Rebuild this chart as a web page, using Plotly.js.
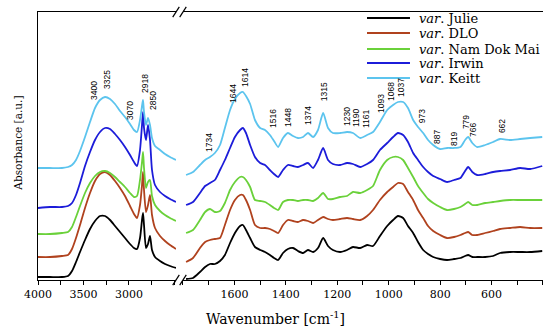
<!DOCTYPE html>
<html>
<head>
<meta charset="utf-8">
<script src="https://cdn.plot.ly/plotly-3.0.1.min.js"></script>
<style>html,body{margin:0;padding:0;background:#fff;}</style>
</head>
<body>
<div id="chart" style="width:550px;height:331px;"></div>
<script>
// ---- data (wavenumber axis positions, absorbance in arbitrary units) ----
const seriesNames = ['Julie', 'DLO', 'Nam Dok Mai', 'Irwin', 'Keitt'];
const seriesColors = ['#000000', '#b0421e', '#6ad13a', '#1c1cd9', '#5cc4ee'];

const wnLeft = [4000, 3868, 3736, 3670, 3626, 3582, 3538, 3483, 3428, 3373,
  3318, 3263, 3208, 3153, 3098, 3043, 2988, 2944, 2911, 2878,
  2856, 2845, 2834, 2812, 2790, 2768, 2746, 2713, 2658, 2603,
  2548, 2482];
const wnRight = [1788, 1761, 1734, 1714, 1695, 1676, 1656, 1637, 1617, 1598,
  1578, 1567, 1555, 1539, 1520, 1500, 1481, 1462, 1446, 1430,
  1411, 1392, 1372, 1353, 1333, 1314, 1294, 1275, 1255, 1236,
  1217, 1189, 1162, 1139, 1111, 1084, 1061, 1034, 1006, 983,
  964, 944, 925, 905, 886, 866, 847, 827, 800, 773,
  746, 721, 703, 691, 675, 656, 625, 594, 567, 528,
  489, 450, 403];

const julieLeft = [3,3,3,4,9,18,28,40,51,59, 64,64,60,54,48,42,36,32,31,42, 60,67,55,32,36,44,30,23,19,16, 14,12];
const dloLeft = [23,23,24,25,31,42,55,72,87,99, 106,108,105,99,92,84,74,66,62,75, 95,108,90,68,75,85,65,52,44,39, 35,31];
const ndmLeft = [46,46,47,48,53,63,74,87,97,104, 108,109,107,103,98,93,87,83,84,100, 118,128,112,92,98,100,84,75,69,65, 62,59];
const irwinLeft = [72,73,73,74,77,85,97,114,128,140, 148,152,151,146,140,133,125,118,114,130, 155,168,152,140,155,140,110,95,88,84, 81,78];
const keittLeft = [112,112,112,113,115,120,129,143,158,172, 180,183,181,176,169,163,156,150,148,160, 174,180,168,155,162,155,142,134,130,126, 123,120];

const julieRight = [1,2,8,13,16,16,19,25,37,47, 54,55,50,42,33,30,28,25,22,20, 27,31,32,29,27,30,28,32,42,34,
  30,28,30,33,32,35,34,44,54,60, 64,62,54,47,38,30,26,23,21,20, 21,22,24,25,23,23,23,24,27,28, 28,28,29];
const dloRight = [18,22,32,38,40,41,42,55,70,80, 85,85,80,70,55,52,52,51,49,47, 55,60,59,58,60,59,57,60,63,61,
  60,61,62,61,60,64,70,80,88,93, 97,96,88,80,70,62,54,49,45,42, 43,45,47,48,45,45,47,49,51,52, 53,52,52];
const ndmRight = [47,50,60,68,71,68,69,77,90,98, 103,103,100,93,80,79,78,75,72,70, 78,80,80,79,80,80,79,82,87,81,
  81,83,84,88,87,90,94,110,120,123, 123,120,112,103,94,87,81,77,73,70, 71,73,76,78,75,75,77,78,79,80, 80,80,80];
const irwinRight = [75,78,87,94,97,100,110,120,132,143, 150,152,147,135,123,117,115,110,106,103, 110,115,114,113,115,117,112,120,132,120,
  116,115,117,116,113,116,120,130,137,143, 147,145,138,127,120,113,108,104,101,98, 100,102,109,113,108,105,106,108,109,110, 112,111,114];
const keittRight = [105,108,115,120,123,127,135,152,170,181, 187,188,184,176,160,152,150,145,139,133, 142,147,144,142,143,147,143,150,167,152,
  147,147,148,147,142,145,148,158,170,175, 178,178,172,160,153,147,140,135,131,132, 132,133,140,143,137,133,135,138,141,140, 141,142,143];

const leftSeries = [julieLeft, dloLeft, ndmLeft, irwinLeft, keittLeft];
const rightSeries = [julieRight, dloRight, ndmRight, irwinRight, keittRight];

// tick labels
const leftTickVals = [4000, 3500, 3000];
const rightTickVals = [1600, 1400, 1200, 1000, 800, 600];

// peak labels
const peakLabelsLeft = ['3400', '3325', '3070', '2918', '2850'];
const peakPosLeftX = [3384, 3241, 2988, 2823, 2735];
const peakPosLeftY = [189, 200, 169, 196, 179];
const peakLabelsRight = ['1734', '1644', '1614', '1516', '1448', '1374', '1315', '1230', '1190', '1161',
  '1093', '1068', '1037', '973', '887', '819', '779', '766', '662'];
const peakPosRightX = [1699, 1606, 1559, 1450, 1392, 1314, 1251, 1162, 1127, 1088,
  1030, 991, 952, 870, 812, 746, 699, 672, 559];
const peakPosRightY = [138, 187, 203, 162, 163, 165, 188, 163, 162, 161,
  177, 188, 192, 164, 143, 141, 158, 150, 154];

// ---- traces ----
const traces = [];
for (let i = 0; i < seriesNames.length; i++) {
  const line = {color: seriesColors[i], width: 1.8, shape: 'spline', smoothing: 0.6};
  traces.push({x: wnLeft, y: leftSeries[i], xaxis: 'x', yaxis: 'y', mode: 'lines', line: line,
    name: 'var. ' + seriesNames[i], showlegend: false, hoverinfo: 'skip'});
  traces.push({x: wnRight, y: rightSeries[i], xaxis: 'x2', yaxis: 'y', mode: 'lines', line: line,
    name: 'var. ' + seriesNames[i], showlegend: false, hoverinfo: 'skip'});
}

// ---- annotations ----
const annotations = [];
const peakFont = {family: '"Liberation Sans Narrow", "Liberation Sans", sans-serif', size: 8.5, color: '#000'};
peakLabelsLeft.forEach((t, i) => annotations.push({text: t, x: peakPosLeftX[i], y: peakPosLeftY[i], xref: 'x', yref: 'y',
  showarrow: false, textangle: -90, font: peakFont, xanchor: 'center', yanchor: 'middle'}));
peakLabelsRight.forEach((t, i) => annotations.push({text: t, x: peakPosRightX[i], y: peakPosRightY[i], xref: 'x2', yref: 'y',
  showarrow: false, textangle: -90, font: peakFont, xanchor: 'center', yanchor: 'middle'}));

// axis titles
annotations.push({text: 'Wavenumber [cm<sup>-1</sup>]', xref: 'paper', yref: 'paper', x: 0.471, y: -0.142,
  showarrow: false, xanchor: 'center', yanchor: 'middle', font: {family: 'DejaVu Serif', size: 14, color: '#000'}});
annotations.push({text: 'Absorbance [a.u.]', xref: 'paper', yref: 'paper', x: -0.039, y: 0.51, textangle: -90,
  showarrow: false, xanchor: 'center', yanchor: 'middle', font: {family: 'DejaVu Serif', size: 10.5, color: '#000'}});

// legend (drawn manually to match compact spacing)
const legRowY = [0.9776, 0.9216, 0.8619, 0.8097, 0.7537];
const shapes = [];
for (let i = 0; i < seriesNames.length; i++) {
  shapes.push({type: 'line', xref: 'paper', yref: 'paper', x0: 0.6515, x1: 0.7366, y0: legRowY[i], y1: legRowY[i],
    line: {color: seriesColors[i], width: 2}});
  annotations.push({text: '<i>var</i>. ' + seriesNames[i], xref: 'paper', yref: 'paper', x: 0.7505, y: legRowY[i],
    xanchor: 'left', yanchor: 'middle', showarrow: false, font: {family: 'DejaVu Serif', size: 13, color: '#000'}});
}

// axis break marks
const breakX = [0.2733, 0.2871];
[0, 1].forEach(py => {
  breakX.forEach(bx => {
    shapes.push({type: 'line', xref: 'paper', yref: 'paper', x0: bx - 0.0065, x1: bx + 0.0065,
      y0: py - 0.019, y1: py + 0.019, line: {color: '#000', width: 1.2}});
  });
});

const axisCommon = {
  showline: true, linecolor: '#000', linewidth: 1.2, mirror: true,
  ticks: 'outside', ticklen: 4, tickwidth: 1, tickcolor: '#000',
  tickfont: {family: 'DejaVu Serif', size: 11, color: '#000'},
  showgrid: false, zeroline: false, anchor: 'y', tickmode: 'array'
};

const layout = {
  width: 550, height: 331,
  margin: {l: 38, r: 7, t: 12, b: 51},
  paper_bgcolor: '#fff', plot_bgcolor: '#fff',
  showlegend: false,
  xaxis: Object.assign({}, axisCommon, {domain: [0, 0.2733], range: [4000, 2482], tickvals: leftTickVals,
    minor: {tickmode: 'linear', tick0: 0, dtick: 250, ticks: 'outside', ticklen: 4, tickwidth: 1, tickcolor: '#000', showgrid: false}}),
  xaxis2: Object.assign({}, axisCommon, {domain: [0.2871, 1], range: [1800, 400], tickvals: rightTickVals,
    minor: {tickmode: 'linear', tick0: 0, dtick: 100, ticks: 'outside', ticklen: 4, tickwidth: 1, tickcolor: '#000', showgrid: false}}),
  yaxis: {range: [0, 268], showline: true, linecolor: '#000', linewidth: 1.2, mirror: false,
    ticks: '', showticklabels: false, showgrid: false, zeroline: false, anchor: 'x'},
  yaxis2: {range: [0, 268], overlaying: 'y', anchor: 'x2', side: 'right', showline: true, linecolor: '#000',
    linewidth: 1.2, ticks: '', showticklabels: false, showgrid: false, zeroline: false},
  annotations: annotations,
  shapes: shapes
};

Plotly.newPlot('chart', traces, layout, {displayModeBar: false, staticPlot: true});
</script>
</body>
</html>
